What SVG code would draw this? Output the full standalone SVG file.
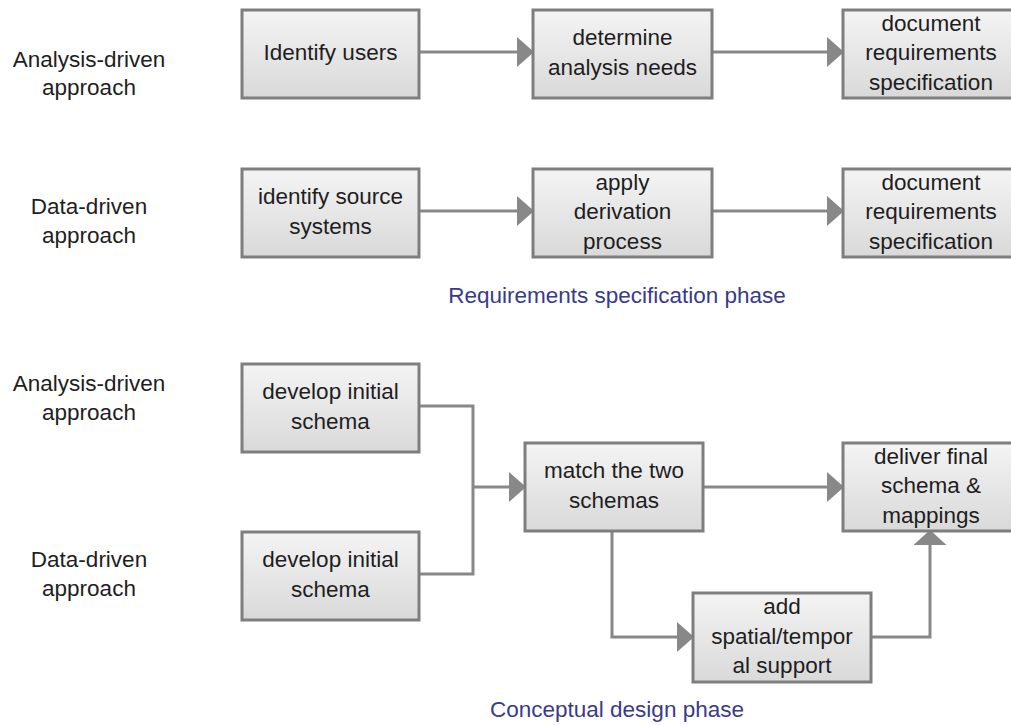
<svg xmlns="http://www.w3.org/2000/svg" width="1011" height="725" viewBox="0 0 1011 725">
<style>
.box{fill:url(#g);stroke:#7e7e7e;stroke-width:3}
.t{font-family:"Liberation Sans",Arial,sans-serif;font-size:22.5px;fill:#1e1e1e;text-anchor:middle}
.ph{font-family:"Liberation Sans",Arial,sans-serif;font-size:22.5px;fill:#3a3a8c;text-anchor:middle}
.c{fill:none;stroke:#888888;stroke-width:3}
</style>
<defs>
<linearGradient id="g" x1="0" y1="0" x2="0" y2="1">
<stop offset="0" stop-color="#f4f4f4"/>
<stop offset="1" stop-color="#d9d9d9"/>
</linearGradient>
<marker id="ah" markerUnits="userSpaceOnUse" markerWidth="17" markerHeight="30" refX="16" refY="15" orient="auto" viewBox="0 0 17 30">
<path d="M0,0 L17,15 L0,30 Z" fill="#888888"/>
</marker>
<marker id="ahu" markerUnits="userSpaceOnUse" markerWidth="15" markerHeight="33" refX="14" refY="16.5" orient="auto" viewBox="0 0 15 33">
<path d="M0,0 L15,16.5 L0,33 Z" fill="#888888"/>
</marker>
</defs>
<rect width="1011" height="725" fill="#ffffff"/>

<g id="labels">
<text class="t" x="89"><tspan x="89" y="67">Analysis-driven</tspan><tspan x="89" y="95">approach</tspan></text>
<text class="t" x="89"><tspan x="89" y="214">Data-driven</tspan><tspan x="89" y="243">approach</tspan></text>
<text class="t" x="89"><tspan x="89" y="391">Analysis-driven</tspan><tspan x="89" y="420">approach</tspan></text>
<text class="t" x="89"><tspan x="89" y="567">Data-driven</tspan><tspan x="89" y="596">approach</tspan></text>
<text class="ph" x="617" y="303">Requirements specification phase</text>
<text class="ph" x="617" y="717">Conceptual design phase</text>
</g>

<g id="connectors">
<path class="c" d="M419,52 H533" marker-end="url(#ah)"/>
<path class="c" d="M712,52 H843" marker-end="url(#ah)"/>
<path class="c" d="M419,211 H533" marker-end="url(#ah)"/>
<path class="c" d="M712,211 H843" marker-end="url(#ah)"/>
<path class="c" d="M419,406 H473 V574 H419"/>
<path class="c" d="M473,487 H525" marker-end="url(#ah)"/>
<path class="c" d="M703,487 H843" marker-end="url(#ah)"/>
<path class="c" d="M612,531 V637 H693" marker-end="url(#ah)"/>
<path class="c" d="M871,637 H930 V531" marker-end="url(#ahu)"/>
</g>

<g id="n1"><rect class="box" x="242" y="10" width="177" height="88"/>
<text class="t"><tspan x="330.5" y="60">Identify users</tspan></text></g>
<g id="n2"><rect class="box" x="533" y="10" width="179" height="88"/>
<text class="t"><tspan x="622.5" y="45.25">determine</tspan><tspan x="622.5" y="74.75">analysis needs</tspan></text></g>
<g id="n3"><rect class="box" x="843" y="10" width="176" height="88"/>
<text class="t"><tspan x="931" y="30.5">document</tspan><tspan x="931" y="60">requirements</tspan><tspan x="931" y="89.5">specification</tspan></text></g>

<g id="n4"><rect class="box" x="242" y="169" width="177" height="88"/>
<text class="t"><tspan x="330.5" y="204.25">identify source</tspan><tspan x="330.5" y="233.75">systems</tspan></text></g>
<g id="n5"><rect class="box" x="533" y="169" width="179" height="88"/>
<text class="t"><tspan x="622.5" y="189.5">apply</tspan><tspan x="622.5" y="219">derivation</tspan><tspan x="622.5" y="248.5">process</tspan></text></g>
<g id="n6"><rect class="box" x="843" y="169" width="176" height="88"/>
<text class="t"><tspan x="931" y="189.5">document</tspan><tspan x="931" y="219">requirements</tspan><tspan x="931" y="248.5">specification</tspan></text></g>

<g id="n7"><rect class="box" x="242" y="364" width="177" height="88"/>
<text class="t"><tspan x="330.5" y="399.25">develop initial</tspan><tspan x="330.5" y="428.75">schema</tspan></text></g>
<g id="n8"><rect class="box" x="242" y="532" width="177" height="88"/>
<text class="t"><tspan x="330.5" y="567.25">develop initial</tspan><tspan x="330.5" y="596.75">schema</tspan></text></g>
<g id="n9"><rect class="box" x="525" y="443" width="178" height="88"/>
<text class="t"><tspan x="614" y="478.25">match the two</tspan><tspan x="614" y="507.75">schemas</tspan></text></g>
<g id="n10"><rect class="box" x="843" y="443" width="176" height="88"/>
<text class="t"><tspan x="931" y="463.5">deliver final</tspan><tspan x="931" y="493">schema &amp;</tspan><tspan x="931" y="522.5">mappings</tspan></text></g>
<g id="n11"><rect class="box" x="693" y="593" width="178" height="89"/>
<text class="t"><tspan x="782" y="614">add</tspan><tspan x="782" y="643.5">spatial/tempor</tspan><tspan x="782" y="673">al support</tspan></text></g>
</svg>
